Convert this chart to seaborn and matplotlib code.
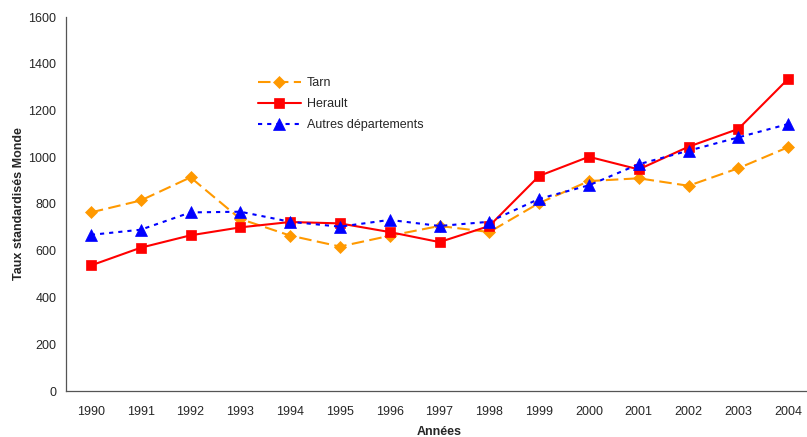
import matplotlib
matplotlib.use("Agg")
import matplotlib.pyplot as plt
import seaborn as sns
import pandas as pd

years = list(range(1990, 2005))
tarn = [764, 815, 914, 736, 665, 618, 664, 706, 680, 804, 898, 910, 878, 953, 1043]
herault = [537, 613, 666, 700, 723, 717, 680, 637, 706, 920, 1002, 948, 1045, 1121, 1335]
autres = [668, 690, 764, 767, 724, 703, 732, 706, 724, 822, 880, 970, 1028, 1085, 1142]
series_names = ["Tarn", "Herault", "Autres départements"]

y_ticks = [0, 200, 400, 600, 800, 1000, 1200, 1400, 1600]

sns.set_style("white")
plt.rcParams["font.family"] = ["Liberation Sans", "DejaVu Sans"]

fig = plt.figure(figsize=(8.07, 4.37), dpi=100)
ax = fig.add_axes([66 / 807, 46 / 437, 747 / 807, 374 / 437])

styles = [
    dict(values=tarn, color="#FF9900", marker="D", ms=6.5, dashes=(6.0, 2.6)),
    dict(values=herault, color="#FF0000", marker="s", ms=7.5, dashes=None),
    dict(values=autres, color="#0000FF", marker="^", ms=8.5, dashes=(2.0, 2.4)),
]

for name, st in zip(series_names, styles):
    df = pd.DataFrame({"Années": years, "valeur": st["values"]})
    sns.lineplot(data=df, x="Années", y="valeur", ax=ax, color=st["color"],
                 marker=st["marker"], markersize=st["ms"], linewidth=1.5,
                 markeredgecolor=st["color"], markeredgewidth=0.5, label=name)
    line = ax.lines[-1]
    if st["dashes"] is not None:
        line.set_dashes(st["dashes"])

ax.set_xlim(1989.5, 2004.5)
ax.set_ylim(0, 1600)
ax.set_yticks(y_ticks)
ax.set_yticklabels([str(v) for v in y_ticks], fontsize=9)

# category boundaries as tick marks, year labels centred in between
ax.set_xticks([y - 0.5 for y in years] + [years[-1] + 0.5])
ax.set_xticklabels([])
ax.set_xticks(years, minor=True)
ax.set_xticklabels([str(y) for y in years], minor=True, fontsize=9)
ax.tick_params(axis="x", which="major", direction="out", length=4, width=0.8, color="#444444")
ax.tick_params(axis="x", which="minor", length=0, pad=11)
ax.tick_params(axis="y", direction="out", length=4, width=0.8, color="#444444", pad=3)

for side in ["top", "right"]:
    ax.spines[side].set_visible(False)
for side in ["left", "bottom"]:
    ax.spines[side].set_color("#555555")
    ax.spines[side].set_linewidth(0.9)

ax.set_xlabel("Années", fontsize=9, fontweight="bold")
ax.xaxis.set_label_coords(0.5 - 0.5 + (439 - 66) / 747, (391 - 426) / 374)
ax.set_ylabel("Taux standardisés Monde", fontsize=9, fontweight="bold", labelpad=2)
ax.grid(False)

leg = ax.legend(frameon=False, loc="upper left", bbox_to_anchor=(258 / 807, 1 - 77 / 437),
                bbox_transform=fig.transFigure, fontsize=9, handlelength=3.4,
                handletextpad=0.5, labelspacing=0.72, borderpad=0, borderaxespad=0)

fig.savefig("out.png", dpi=100)
